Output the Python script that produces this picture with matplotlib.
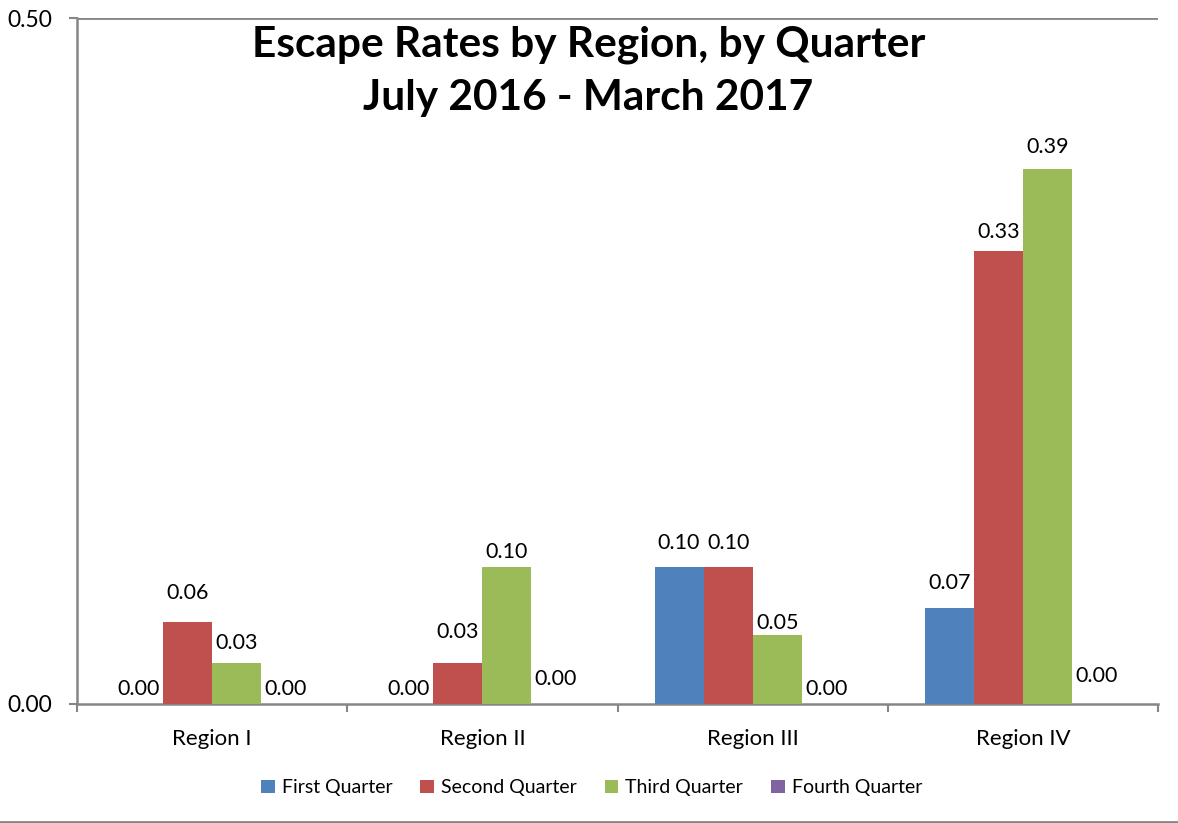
"""Escape rates by region, by quarter — bar chart recreation."""

import matplotlib

matplotlib.use("Agg")
import matplotlib.pyplot as plt
import numpy as np
from matplotlib.lines import Line2D

regions = ["Region I", "Region II", "Region III", "Region IV"]
quarters = ["First Quarter", "Second Quarter", "Third Quarter", "Fourth Quarter"]
first_q = [0.00, 0.00, 0.10, 0.07]
second_q = [0.06, 0.03, 0.10, 0.33]
third_q = [0.03, 0.10, 0.05, 0.39]
fourth_q = [0.00, 0.00, 0.00, 0.00]
title_lines = ["Escape Rates by Region, by Quarter", "July 2016 - March 2017"]

colors = ["#4F81BD", "#C0504D", "#9BBB59", "#8064A2"]
# label lift above each bar (points), per quarter then region
label_lift = [
    [11, 11, 17, 18],
    [21, 22, 17, 14],
    [14, 11, 9, 16],
    [11, 18, 11, 20],
]

plt.rcParams["font.family"] = ["Lato", "DejaVu Sans"]

fig = plt.figure(figsize=(11.78, 8.23), dpi=100)
ax = fig.add_axes([0.0654, 0.1446, 0.9176, 0.8334])

series = [first_q, second_q, third_q, fourth_q]
x = np.arange(len(regions))
w = 0.1815
for i, (vals, name) in enumerate(zip(series, quarters)):
    pos = x + (i - 1.5) * w
    ax.bar(pos, vals, width=w, color=colors[i], label=name, zorder=3)
    for xp, v, lift in zip(pos, vals, label_lift[i]):
        ax.annotate(f"{v:.2f}", (xp, v), xytext=(0, lift), textcoords="offset points",
                    ha="center", va="center", fontsize=15.5, color="black")

ax.set_xlim(-0.5, len(regions) - 0.5)
ax.set_ylim(0, 0.5)
ax.set_yticks([0, 0.5])
ax.set_yticklabels(["0.00", "0.50"], fontsize=16.5)
ax.set_xticks(x)
ax.set_xticklabels(regions, fontsize=16)
ax.tick_params(axis="x", length=0, pad=18)
ax.tick_params(axis="y", length=6, color="#868686", width=1.5, pad=12)
ax.set_xticks(np.arange(len(regions) + 1) - 0.5, minor=True)
ax.tick_params(axis="x", which="minor", length=6, color="#868686", width=1.5, direction="out")

ax.axhline(0.5, color="#868686", linewidth=2, zorder=1)
for s in ("top", "right"):
    ax.spines[s].set_visible(False)
for s in ("left", "bottom"):
    ax.spines[s].set_color("#868686")
    ax.spines[s].set_linewidth(1.8)

for line, y in zip(title_lines, (0.946, 0.881)):
    fig.text(0.4995, y, line, ha="center", va="center", fontsize=30.5, fontweight="bold")

ax.legend(loc="center", bbox_to_anchor=(0.476, -0.122), ncol=4, frameon=False,
          fontsize=14, handlelength=0.7, handleheight=0.7, handletextpad=0.35,
          columnspacing=1.45)

fig.add_artist(Line2D([0, 1], [0.001, 0.001], transform=fig.transFigure,
                      color="#868686", linewidth=2))

fig.savefig("out.png", dpi=100)
plt.close(fig)
